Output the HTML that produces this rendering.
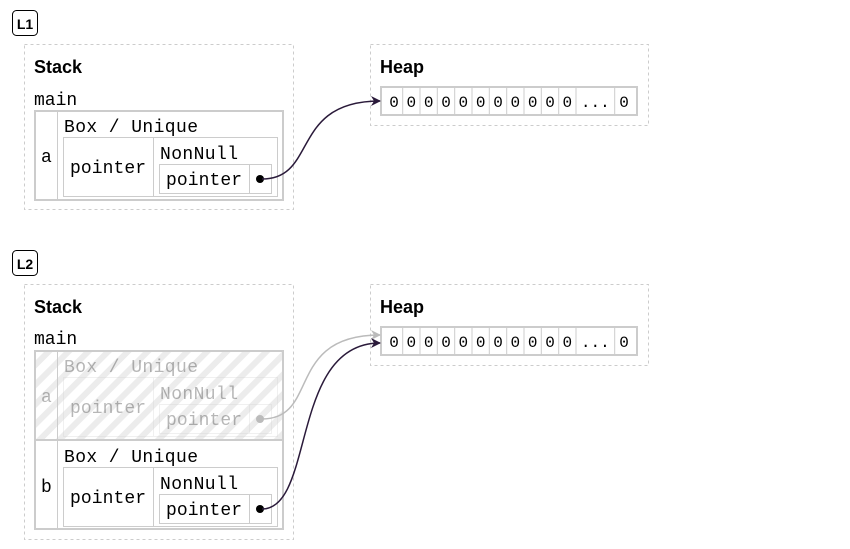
<!DOCTYPE html>
<html><head><meta charset="utf-8"><style>
html,body{margin:0;padding:0;background:#fff;}
svg{display:block}
.m{font-family:"Liberation Mono",monospace;font-size:18px;fill:#000}
.s{font-family:"Liberation Sans",sans-serif;font-weight:bold;font-size:18px;fill:#000}
.z{font-family:"Liberation Mono",monospace;font-size:16px;fill:#000;text-anchor:middle}
</style></head><body>
<svg width="850" height="549" viewBox="0 0 850 549" xmlns="http://www.w3.org/2000/svg">
<defs>
<pattern id="h" width="14" height="14" patternUnits="userSpaceOnUse" patternTransform="rotate(45)">
<rect width="14" height="14" fill="#fff"/><rect width="6" height="14" fill="#ececec"/>
</pattern>
<marker id="ad" markerWidth="10" markerHeight="10" refX="9" refY="5" orient="auto" markerUnits="userSpaceOnUse"><path d="M0,0 L10,5 L0,10 L3,5 z" fill="#2a1a3a"/></marker>
<marker id="ag" markerWidth="10" markerHeight="10" refX="9" refY="5" orient="auto" markerUnits="userSpaceOnUse"><path d="M0,0 L10,5 L0,10 L3,5 z" fill="#bbb"/></marker>
<g id="heap">
<rect x="370.5" y="44.5" width="278" height="81" fill="none" stroke="#ccc" stroke-dasharray="3,3"/>
<text x="380" y="73" class="s">Heap</text>
<rect x="381" y="87" width="256" height="28" fill="#fff" stroke="#ccc" stroke-width="2"/>
<g stroke="#ccc" stroke-width="1">
<line x1="402.7" y1="88" x2="402.7" y2="114"/><line x1="420" y1="88" x2="420" y2="114"/><line x1="437.3" y1="88" x2="437.3" y2="114"/><line x1="454.7" y1="88" x2="454.7" y2="114"/><line x1="472" y1="88" x2="472" y2="114"/><line x1="489.3" y1="88" x2="489.3" y2="114"/><line x1="506.7" y1="88" x2="506.7" y2="114"/><line x1="524" y1="88" x2="524" y2="114"/><line x1="541.3" y1="88" x2="541.3" y2="114"/><line x1="558.7" y1="88" x2="558.7" y2="114"/><line x1="576" y1="88" x2="576" y2="114"/><line x1="614.7" y1="88" x2="614.7" y2="114"/>
</g>
<text y="107" class="z"><tspan x="394">0</tspan><tspan x="411.3">0</tspan><tspan x="428.7">0</tspan><tspan x="446">0</tspan><tspan x="463.3">0</tspan><tspan x="480.7">0</tspan><tspan x="498">0</tspan><tspan x="515.3">0</tspan><tspan x="532.7">0</tspan><tspan x="550">0</tspan><tspan x="567.3">0</tspan><tspan x="595.3">...</tspan><tspan x="624">0</tspan></text>
</g>
<g id="blk">
<text x="64" y="132" class="m" textLength="134">Box / Unique</text>
<rect x="63.5" y="137.5" width="214" height="59" fill="none" stroke="#ccc"/>
<line x1="153.5" y1="138" x2="153.5" y2="196" stroke="#ccc"/>
<text x="70" y="173" class="m" textLength="76">pointer</text>
<text x="160" y="159" class="m" textLength="78">NonNull</text>
<rect x="159.5" y="164.5" width="112" height="29" fill="none" stroke="#ccc"/>
<line x1="249.5" y1="165" x2="249.5" y2="193" stroke="#ccc"/>
<text x="166" y="185" class="m" textLength="76">pointer</text>
</g>
</defs>

<!-- L1 -->
<rect x="12.5" y="10.5" width="25" height="25" rx="4" fill="#fff" stroke="#000"/>
<text x="25" y="29" class="s" font-size="14" text-anchor="middle" style="font-size:14px">L1</text>
<rect x="24.5" y="44.5" width="269" height="165" fill="none" stroke="#ccc" stroke-dasharray="3,3"/>
<text x="34" y="73" class="s">Stack</text>
<text x="34" y="105" class="m">main</text>
<rect x="35" y="111" width="248" height="89" fill="#fff" stroke="#ccc" stroke-width="2"/>
<line x1="57.5" y1="112" x2="57.5" y2="199" stroke="#ccc"/>
<text x="41" y="162" class="m">a</text>
<use href="#blk"/>
<circle cx="260" cy="179" r="4" fill="#000"/>
<use href="#heap"/>
<path d="M262 179 C 318 179, 290 101, 380 101" fill="none" stroke="#2a1a3a" stroke-width="1.5" marker-end="url(#ad)"/>

<!-- L2 -->
<rect x="12.5" y="250.5" width="25" height="25" rx="4" fill="#fff" stroke="#000"/>
<text x="25" y="269" class="s" text-anchor="middle" style="font-size:14px">L2</text>
<rect x="24.5" y="284.5" width="269" height="255" fill="none" stroke="#ccc" stroke-dasharray="3,3"/>
<text x="34" y="313" class="s">Stack</text>
<text x="34" y="344" class="m">main</text>
<rect x="35" y="351" width="248" height="178" fill="#fff" stroke="#ccc" stroke-width="2"/>
<rect x="36" y="352" width="246" height="88" fill="url(#h)"/>
<line x1="36" y1="440" x2="282" y2="440" stroke="#ccc" stroke-width="2"/>
<line x1="57.5" y1="352" x2="57.5" y2="528" stroke="#ccc"/>
<g opacity="0.28"><use href="#blk" y="240"/><text x="41" y="402" class="m">a</text></g>
<circle cx="260" cy="419" r="4" fill="#bbb"/>
<text x="41" y="492" class="m">b</text>
<use href="#blk" y="330"/>
<circle cx="260" cy="509" r="4" fill="#000"/>
<use href="#heap" y="240"/>
<path d="M262 419 C 320 419, 285 335, 380 335" fill="none" stroke="#bbb" stroke-width="1.5" marker-end="url(#ag)"/>
<path d="M262 509 C 315 509, 290 343, 380 343" fill="none" stroke="#2a1a3a" stroke-width="1.5" marker-end="url(#ad)"/>
</svg>
</body></html>
